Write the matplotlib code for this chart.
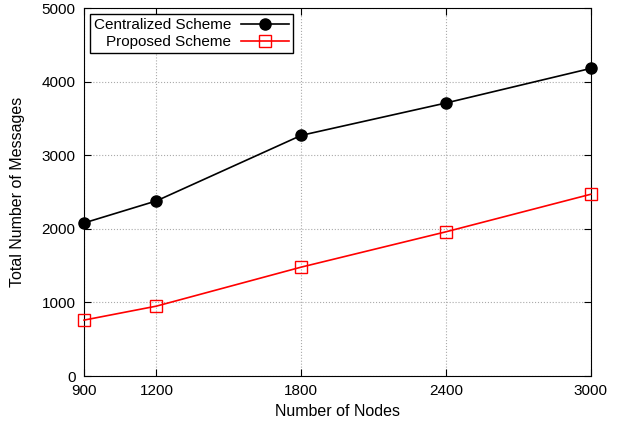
import matplotlib
matplotlib.use('Agg')
import matplotlib.pyplot as plt

plt.rcParams['font.family'] = ['Liberation Sans', 'DejaVu Sans']

# data
nodes = [900, 1200, 1800, 2400, 3000]
centralized = [2080, 2380, 3270, 3710, 4180]
proposed = [760, 950, 1480, 1960, 2470]

fig = plt.figure(figsize=(6.18, 4.23), dpi=100)
ax = fig.add_axes([0.136, 0.111, 0.82, 0.87])

ax.plot(nodes, centralized, color='black', marker='o', markersize=8,
        linewidth=1.2, label='Centralized Scheme', clip_on=False, zorder=3)
ax.plot(nodes, proposed, color='red', marker='s', markersize=8,
        markerfacecolor='none', markeredgewidth=1.0, linewidth=1.2,
        label='Proposed Scheme', clip_on=False, zorder=3)

ax.set_xlim(900, 3000)
ax.set_ylim(0, 5000)
ax.set_xticks(nodes)
ax.set_yticks(range(0, 5001, 1000))
ax.tick_params(direction='in', top=True, right=True, labelsize=11, length=5, pad=6)
ax.grid(True, color='#aaaaaa', linestyle=':', linewidth=0.8)
ax.set_xlabel('Number of Nodes', fontsize=11.5, labelpad=4)
ax.set_ylabel('Total Number of Messages', fontsize=11.5, labelpad=12)

leg = ax.legend(loc='upper left', markerfirst=False, fontsize=11,
                fancybox=False, edgecolor='black', framealpha=1,
                handlelength=3.2, borderaxespad=0.4, borderpad=0.25,
                labelspacing=0.2, handletextpad=0.6)
leg.get_frame().set_linewidth(1.0)
for t in leg.get_texts():
    t.set_ha('right')

fig.savefig('out.png', dpi=100)
